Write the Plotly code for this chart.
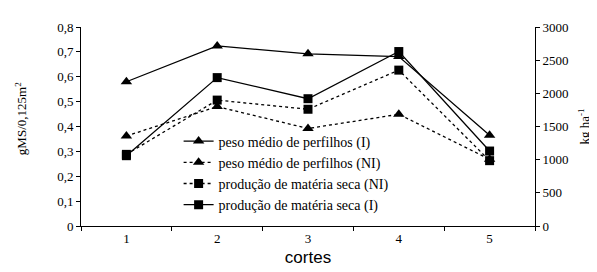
import plotly.graph_objects as go

cortes = ["1", "2", "3", "4", "5"]
peso_I = [0.58, 0.724, 0.692, 0.681, 0.365]
peso_NI = [0.362, 0.48, 0.392, 0.449, 0.268]
prod_NI = [1080, 1898, 1760, 2350, 985]
prod_I = [1060, 2237, 1919, 2630, 1130]

left_vals = [0, 0.1, 0.2, 0.3, 0.4, 0.5, 0.6, 0.7, 0.8]
left_text = ["0", "0,1", "0,2", "0,3", "0,4", "0,5", "0,6", "0,7", "0,8"]
right_vals = [0, 500, 1000, 1500, 2000, 2500, 3000]

names = ["peso médio de perfilhos (I)", "peso médio de perfilhos (NI)",
         "produção de matéria seca (NI)", "produção de matéria seca (I)"]

fig = go.Figure()
fig.add_trace(go.Scatter(x=cortes, y=peso_I, name=names[0], mode="lines+markers",
                         line=dict(color="black", width=1.3),
                         marker=dict(symbol="triangle-up", size=10, color="black")))
fig.add_trace(go.Scatter(x=cortes, y=peso_NI, name=names[1], mode="lines+markers",
                         line=dict(color="black", width=1.3, dash="3px,3px"),
                         marker=dict(symbol="triangle-up", size=10, color="black")))
fig.add_trace(go.Scatter(x=cortes, y=prod_NI, name=names[2], mode="lines+markers", yaxis="y2",
                         line=dict(color="black", width=1.3, dash="3px,3px"),
                         marker=dict(symbol="square", size=9, color="black")))
fig.add_trace(go.Scatter(x=cortes, y=prod_I, name=names[3], mode="lines+markers", yaxis="y2",
                         line=dict(color="black", width=1.3),
                         marker=dict(symbol="square", size=9, color="black")))

serif = "Liberation Serif, Times New Roman, serif"
fig.update_layout(
    width=597, height=272,
    margin=dict(l=73, r=70, t=17, b=54),
    paper_bgcolor="white", plot_bgcolor="white",
    font=dict(family=serif, size=13, color="black"),
    showlegend=True,
    legend=dict(x=0.215, y=0.505, xanchor="left", yanchor="top",
                bgcolor="rgba(0,0,0,0)", font=dict(family=serif, size=14),
                tracegroupgap=0),
    xaxis=dict(type="category", range=[-0.5, 4.5], tickson="boundaries",
               ticks="outside", ticklen=4, tickcolor="black",
               showline=True, linecolor="black", linewidth=1, showgrid=False,
               zeroline=False, tickfont=dict(family=serif, size=13),
               title=dict(text="cortes", font=dict(family="Liberation Sans, Arial, sans-serif", size=17),
                          standoff=6)),
    yaxis=dict(range=[0, 0.8], tickvals=left_vals, ticktext=left_text,
               ticks="outside", ticklen=4, tickcolor="black",
               showline=True, linecolor="black", linewidth=1, showgrid=False, zeroline=False,
               tickfont=dict(family=serif, size=13)),
    yaxis2=dict(range=[0, 3000], tickvals=right_vals, overlaying="y", side="right",
                ticks="outside", ticklen=4, tickcolor="black",
                showline=True, linecolor="black", linewidth=1, showgrid=False, zeroline=False,
                tickfont=dict(family=serif, size=13),
                title=dict(text="kg ha<sup>-1</sup>", font=dict(family=serif, size=13), standoff=12)),
    annotations=[dict(text="gMS/0,125m<sup>2</sup>", xref="paper", yref="paper",
                      x=0, y=0.537, xshift=-60, textangle=-90, showarrow=False,
                      font=dict(family=serif, size=13), xanchor="center", yanchor="middle")],
)

fig.write_html("out.html")
